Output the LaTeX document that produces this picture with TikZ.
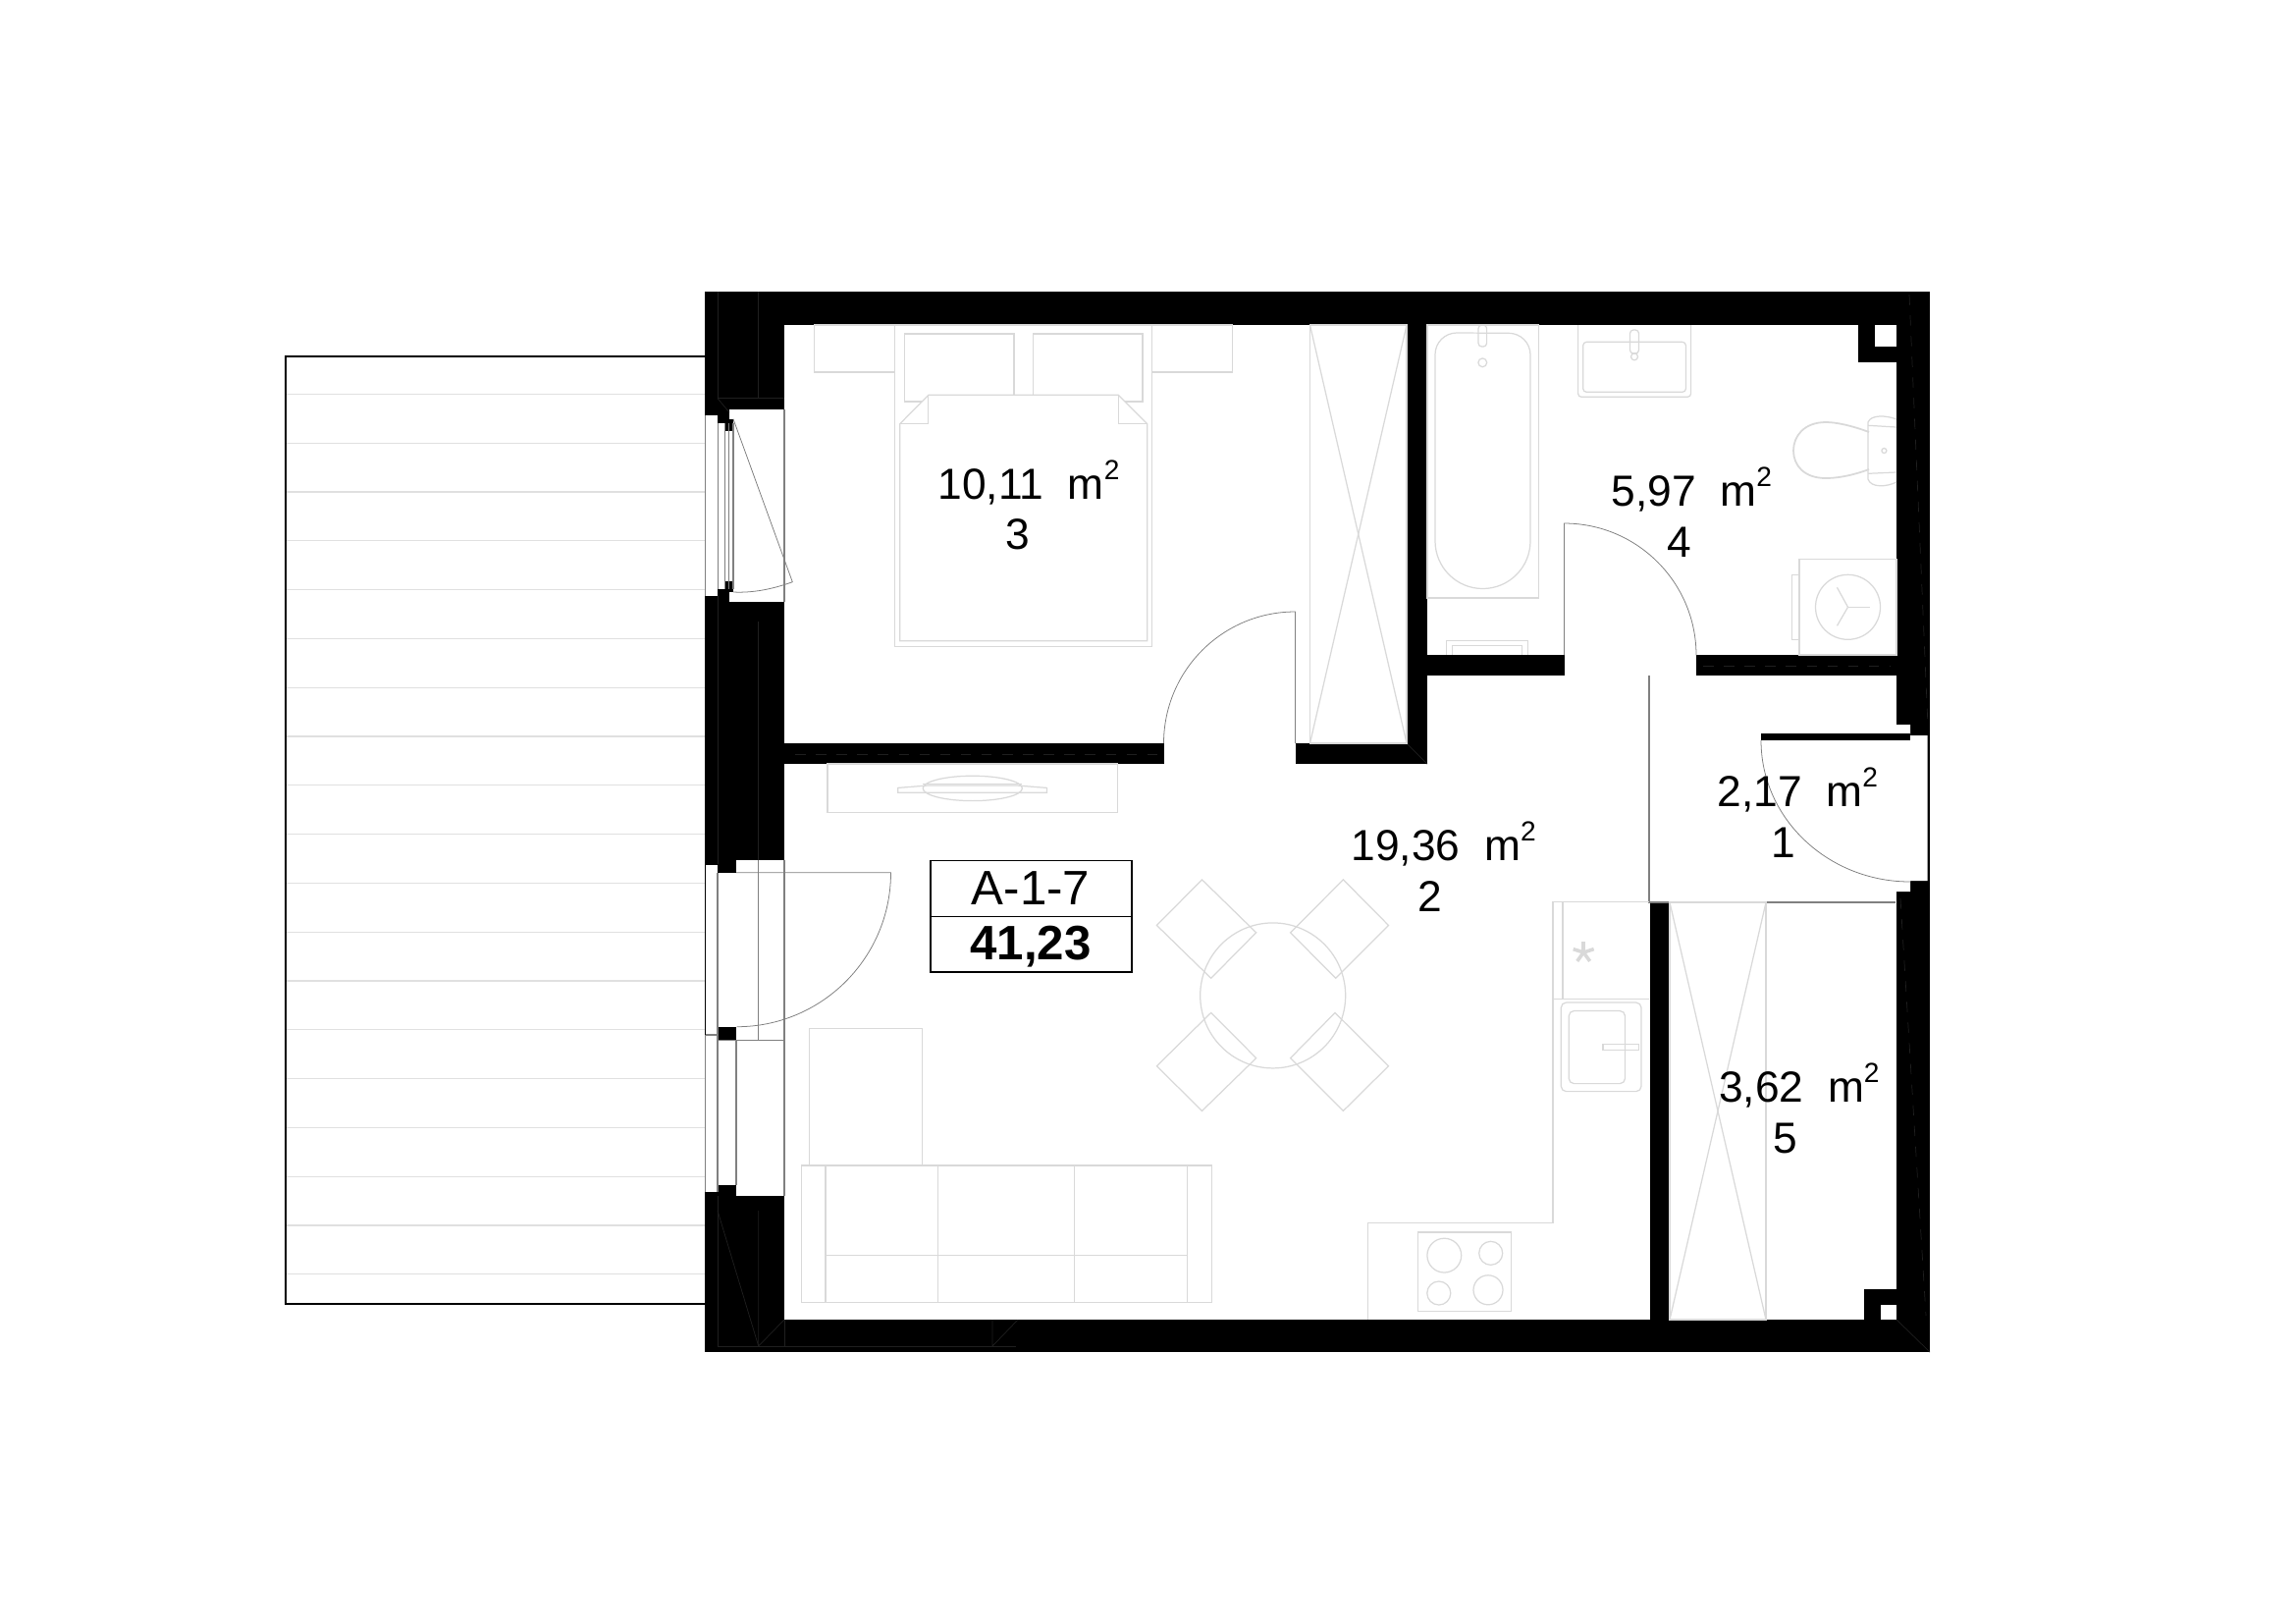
\documentclass[tikz,border=0pt]{standalone}
\usepackage{fontspec}
\setmainfont{Liberation Sans}
\definecolor{furncol}{gray}{0.85}
\definecolor{stripecol}{gray}{0.88}
\definecolor{swingcol}{gray}{0.5}
\definecolor{wallcol}{gray}{0.12}
\newcommand{\sqm}{m\raisebox{0.45em}{\fontsize{8}{8}\selectfont 2}}
\tikzset{
  wallfill/.style={fill=black},
  holefill/.style={fill=white},
  furn/.style={draw=furncol, line width=0.35pt},
  swing/.style={draw=swingcol, line width=0.22pt},
  frameline/.style={draw=swingcol, line width=0.35pt},
  wallline/.style={draw=wallcol, line width=0.2pt},
  roomtext/.style={font=\fontsize{12.6}{15}\selectfont, inner sep=0pt},
  boxtext/.style={font=\fontsize{14}{16}\selectfont, inner sep=0pt}
}
\begin{document}
\begin{tikzpicture}[x=0.01cm,y=-0.01cm]
    \useasboundingbox[fill=white] (0,0) rectangle (2339,1653);
    % terrace
    \foreach \Y in {401.3,451.1,...,1300}{
        \draw[draw=stripecol,line width=0.35pt] (291,\Y)--(718,\Y);
    }
    \draw[line width=0.55pt] (718,362.7)--(291,362.7)--(291,1327.7)--(718,1327.7);
    % walls
    \fill[wallfill] (718,297) rectangle (1966,1377);
    \fill[holefill] (799,331) rectangle (1932,1344);
    \fill[wallfill] (799,757) rectangle (1186,778);
    \fill[wallfill] (1319.5,757) rectangle (1454,778);
    \fill[wallfill] (1433,331) rectangle (1454,778);
    \fill[wallfill] (1454,667) rectangle (1593.5,688);
    \fill[wallfill] (1728,667) rectangle (1932,688);
    \fill[wallfill] (1681,919) rectangle (1701,1344);
    \fill[wallfill] (1893,331) rectangle (1932,369);
    \fill[holefill] (1909.5,331) rectangle (1932,352.6);
    \fill[wallfill] (1899,1312.5) rectangle (1932,1344);
    \fill[holefill] (1915.6,1328.6) rectangle (1932,1344);
    % entrance opening
    \fill[holefill] (1931,738)--(1946,738)--(1946,749)--(1963.5,749)--(1963.5,897)--(1946,897)--(1946,908)--(1931,908)--cycle;
    \fill[wallfill] (1794,747.3) rectangle (1946,754.3);
    % bedroom window
    \fill[holefill] (743,417) rectangle (799,612.7);
    \fill[holefill] (731,430.7) rectangle (743,600);
    \fill[holefill] (719,422.7) rectangle (731,607.3);
    \fill[wallfill] (738.7,426.7) rectangle (747,439.3);
    \fill[wallfill] (738.7,591.7) rectangle (747,603);
    \foreach \X in {731.5,738.7,742.7,747}{
        \draw[frameline] (\X,431)--(\X,600);
    }
    \draw[frameline] (718.5,422.7)--(718.5,607.3);
    \draw[frameline] (799,417)--(799,612.7);
    \draw[swing] (747,426.7)--(807.3,592.7) .. controls (787,600) and (767,604) .. (747,603);
    % living room door and window
    \fill[holefill] (750,876) rectangle (799,1218);
    \fill[holefill] (731,888.7) rectangle (750,1207);
    \fill[holefill] (719,880.7) rectangle (731,1214);
    \fill[wallfill] (731,1045.7) rectangle (750,1059.3);
    \fill[wallfill] (731,1207) rectangle (750,1218);
    \draw[line width=0.5pt] (718.5,880.7)--(718.5,1054);
    \draw[frameline] (718.5,1054)--(718.5,1214);
    \draw[frameline] (731,888.7)--(731,1214);
    \draw[frameline] (750,1059.3)--(750,1207);
    \draw[frameline] (772.7,876)--(772.7,1059.3);
    \draw[frameline] (799,876)--(799,1218);
    \draw[frameline] (718.5,1054)--(731,1054);
    \draw[frameline] (731,1059.3)--(799,1059.3);
    \draw[swing] (750,888.7)--(907.5,888.7) arc[start angle=0,end angle=90,radius=157];
    % marks inside the walls
    \draw[wallline] (731,297)--(731,405.7)--(799,405.7);
    \draw[wallline] (772.7,297)--(772.7,405.7);
    \draw[wallline] (731,405.7)--(743,420);
    \draw[wallline] (772.7,633)--(772.7,876);
    \draw[wallline] (731,607)--(731,880);
    \draw[wallline] (731,1218)--(731,1371)--(1035,1371);
    \draw[wallline] (772.7,1233)--(772.7,1371)--(799,1344);
    \draw[wallline] (799,1344)--(799,1371);
    \draw[wallline] (1011,1344)--(1011,1371)--(1037,1344);
    \draw[wallline] (731,1233)--(772.7,1371);
    \draw[wallline,dashed] (1945,300)--(1964,740);
    \draw[wallline,dashed] (1936,915)--(1962,1340);
    \draw[wallline,dashed] (810,768)--(1180,768);
    \draw[wallline,dashed] (1735,678)--(1925,678);
    \draw[wallline] (1932,1344)--(1966,1377);
    \draw[wallline] (1433,757)--(1454,778);
    % bedroom
    \draw[furn] (829.4,331) rectangle (911.3,379);
    \draw[furn] (1173.6,331) rectangle (1255.5,379);
    \draw[furn] (911.3,331) rectangle (1173.6,658.3);
    \draw[furn] (921.5,340) rectangle (1033,409);
    \draw[furn] (1052.4,340) rectangle (1163.9,409);
    \draw[furn,fill=white] (916.7,431.7)--(945.8,402.3)--(1139.2,402.3)--(1168.7,431.7)--(1168.7,652.7)--(916.7,652.7)--cycle;
    \draw[furn] (945.8,402.3)--(945.8,431.7)--(916.7,431.7);
    \draw[furn] (1139.2,402.3)--(1139.2,431.7)--(1168.7,431.7);
    \draw[furn] (1334.5,331) rectangle (1433,757);
    \draw[furn] (1334.5,331)--(1433,757);
    \draw[furn] (1433,331)--(1334.5,757);
    \draw[swing] (1319.5,757)--(1319.5,623) arc[start angle=270,end angle=180,radius=134];
    % bathroom
    \draw[furn] (1454,331) rectangle (1567.6,609);
    \draw[furn] (1462,361) arc[start angle=180,end angle=270,radius=22]--(1537,339.3) arc[start angle=270,end angle=360,radius=22]--(1559,551) arc[start angle=0,end angle=180,radius=48.5]--cycle;
    \draw[furn,rounded corners=1pt] (1506,331) rectangle (1514.6,353);
    \draw[furn] (1510.3,369.3) circle (4.4);
    \draw[furn,rounded corners=1pt] (1607.6,331)--(1607.6,404.3)--(1722.6,404.3)--(1722.6,331);
    \draw[furn,rounded corners=1pt] (1612.7,348.3) rectangle (1717.4,399.3);
    \draw[furn,rounded corners=1pt] (1660.5,336) rectangle (1669.5,360);
    \draw[furn] (1665,363.3) circle (3.5);
    \draw[furn,line width=0.5pt] (1904,440) .. controls (1885,433) and (1870,430) .. (1860,430) .. controls (1838,430) and (1827,444) .. (1827,459) .. controls (1827,474) and (1838,487) .. (1860,487) .. controls (1870,487) and (1885,485) .. (1904,478);
    \draw[furn] (1932,427) .. controls (1922,423) and (1906,422) .. (1903,430)--(1903,488) .. controls (1906,497) and (1922,496) .. (1932,491);
    \draw[furn] (1903,433.3)--(1932,435);
    \draw[furn] (1903,482.3)--(1932,481);
    \draw[furn] (1919.4,459) circle (2.5);
    \draw[furn] (1833,569.3) rectangle (1932,667);
    \draw[furn] (1825.5,585.3) rectangle (1833,651.7);
    \draw[furn] (1882.5,618.3) circle (33);
    \draw[furn] (1882.5,618.3)--(1905,618.3);
    \draw[furn] (1882.5,618.3)--(1871.5,598.3);
    \draw[furn] (1882.5,618.3)--(1871.5,637.3);
    \draw[furn] (1473.6,667)--(1473.6,652.3)--(1556.5,652.3)--(1556.5,667);
    \draw[furn] (1479.6,667)--(1479.6,657.7)--(1550.6,657.7)--(1550.6,667);
    \draw[swing] (1593.5,667)--(1593.5,533) arc[start angle=270,end angle=360,radius=134.5];
    % hall
    \draw[frameline] (1680,688)--(1680,919)--(1931,919);
    \draw[swing] (1794,754) arc[start angle=180,end angle=90,x radius=152,y radius=144];
    \draw[furn] (1701,919) rectangle (1799,1344);
    \draw[furn] (1701,919)--(1799,1344);
    \draw[furn] (1799,919)--(1701,1344);
    % living room
    \draw[furn] (843,778) rectangle (1138.7,827.3);
    \draw[furn] (990.8,802.9) ellipse (50.6 and 12.7);
    \draw[furn] (914.7,802.4)--(945,800)--(1036,800)--(1066.5,802.4)--(1066.5,807.3)--(914.7,807.3)--cycle;
    \draw[furn] (940,798.8)--(1041,798.8);
    \draw[furn] (1296.7,1013.9) circle (74);
    \draw[furn] (1224.5,895.9)--(1279.7,949.8)--(1233.7,996.3)--(1178.4,942.4)--cycle;
    \draw[furn] (1368.4,895.9)--(1414.5,942.4)--(1360.7,996.3)--(1314.6,949.8)--cycle;
    \draw[furn] (1233.7,1031.4)--(1279.7,1077.6)--(1224.5,1131.4)--(1178.4,1085.7)--cycle;
    \draw[furn] (1360,1031.4)--(1414.5,1085.7)--(1368.4,1131.4)--(1314.6,1077.6)--cycle;
    \draw[furn] (824.6,1047.8) rectangle (939.5,1187);
    \draw[furn] (816.3,1187) rectangle (1234.2,1326.5);
    \foreach \X in {841,955.5,1094.6,1209.5}{
        \draw[furn] (\X,1187)--(\X,1326.5);
    }
    \draw[furn] (841,1278.4)--(1209.5,1278.4);
    % kitchen
    \draw[furn] (1393.4,1344)--(1393.4,1245.5)--(1582,1245.5)--(1582,918.8)--(1680,918.8);
    \draw[furn] (1591.9,919)--(1591.9,1017.4);
    \draw[furn] (1582,1017.4)--(1680,1017.4);
    \draw[furn] (1444.4,1255) rectangle (1539.7,1335.3);
    \foreach \Point/\R in {(1471.3,1278.6)/17.4, (1518.7,1276.3)/12, (1465.8,1317)/12, (1516,1313.8)/15}{
        \draw[furn] \Point circle (\R);
    }
    \draw[furn,rounded corners=1.5pt] (1590.3,1021) rectangle (1672,1111.6);
    \draw[furn,rounded corners=1.5pt] (1598.2,1029.5) rectangle (1655.5,1103.6);
    \draw[furn] (1633,1063.8) rectangle (1669.3,1069.6);
    \foreach \A in {90,162,234,306,18}{
        \draw[furncol,line width=1pt] (1613.2,970)--++(\A:-11);
    }
    % labels
    \draw[line width=0.45pt] (947.7,876.3) rectangle (1152.7,990.2);
    \draw[line width=0.45pt] (947.7,933.5)--(1152.7,933.5);
    \node[boxtext] (aptname) at (1050,905) {A-1-7};
    \node[boxtext] (aptarea) at (1050,964) {\bfseries 41,23};
    \node[roomtext,anchor=base west] (area3) at (955,508.3) {10,11\ \ \sqm};
    \node[roomtext,anchor=base] (num3) at (1037,559) {3};
    \node[roomtext,anchor=base west] (area4) at (1641,515) {5,97\ \ \sqm};
    \node[roomtext,anchor=base] (num4) at (1710.4,567.3) {4};
    \node[roomtext,anchor=base west] (area2) at (1376,876) {19,36\ \ \sqm};
    \node[roomtext,anchor=base] (num2) at (1457,928.6) {2};
    \node[roomtext,anchor=base west] (area1) at (1749,821.4) {2,17\ \ \sqm};
    \node[roomtext,anchor=base] (num1) at (1816.8,873) {1};
    \node[roomtext,anchor=base west] (area5) at (1750.5,1122) {3,62\ \ \sqm};
    \node[roomtext,anchor=base] (num5) at (1818.7,1174) {5};
\end{tikzpicture}
\end{document}
